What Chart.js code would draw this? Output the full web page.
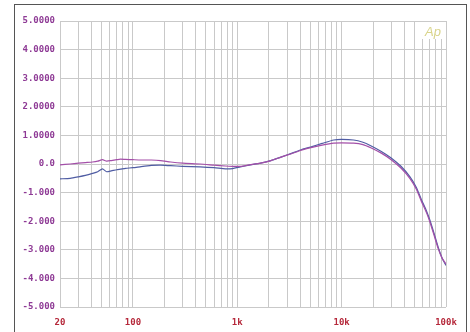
<!DOCTYPE html>
<html>
<head>
<meta charset="utf-8">
<script src="https://cdn.jsdelivr.net/npm/chart.js@4/dist/chart.umd.min.js"></script>
<style>
  html, body { margin: 0; padding: 0; background: #fff; }
  canvas { display: block; }
</style>
</head>
<body>
<canvas id="resp" width="470" height="332"></canvas>
<script>
// frequency points (Hz)
const freqs = [20, 25, 30, 35, 41, 46, 51, 56, 62, 70, 76, 85, 100, 120, 150, 184, 230, 300, 440, 600, 770, 900, 1070, 1300, 1670, 2100, 2620, 3300, 4100, 5200, 6500, 8400, 10000, 13000, 16000, 19000, 24000, 29600, 37000, 45000, 52000, 58000, 65000, 70000, 77000, 84000, 92000, 100000];
// level (dB) - purple trace
const purple = [-0.03, 0.0, 0.03, 0.05, 0.07, 0.1, 0.15, 0.1, 0.12, 0.15, 0.17, 0.16, 0.15, 0.14, 0.14, 0.12, 0.07, 0.03, 0.0, -0.04, -0.07, -0.08, -0.08, -0.03, 0.03, 0.12, 0.24, 0.36, 0.48, 0.58, 0.66, 0.73, 0.74, 0.73, 0.68, 0.57, 0.38, 0.16, -0.14, -0.5, -0.88, -1.3, -1.7, -2.02, -2.5, -2.95, -3.3, -3.5];
// level (dB) - blue trace
const blue = [-0.52, -0.5, -0.45, -0.4, -0.33, -0.27, -0.17, -0.27, -0.24, -0.2, -0.18, -0.15, -0.13, -0.09, -0.05, -0.04, -0.06, -0.08, -0.1, -0.13, -0.17, -0.16, -0.1, -0.04, 0.03, 0.12, 0.24, 0.37, 0.5, 0.61, 0.72, 0.84, 0.86, 0.84, 0.76, 0.64, 0.44, 0.22, -0.08, -0.44, -0.82, -1.24, -1.64, -1.96, -2.44, -2.9, -3.3, -3.55];

const xGridTicks = [20, 30, 40, 50, 60, 70, 80, 90, 100, 200, 300, 400, 500, 600, 700, 800, 900, 1000, 2000, 3000, 4000, 5000, 6000, 7000, 8000, 9000, 10000, 20000, 30000, 40000, 50000, 60000, 70000, 80000, 90000, 100000];
const xLabels = {20: '20', 100: '100', 1000: '1k', 10000: '10k', 100000: '100k'};
const yLabels = {5: '5.0000', 4: '4.0000', 3: '3.0000', 2: '2.0000', 1: '1.0000', 0: '0.0', '-1': '-1.000', '-2': '-2.000', '-3': '-3.000', '-4': '-4.000', '-5': '-5.000'};

const pts = arr => freqs.map((f, i) => ({x: f, y: arr[i]}));

const frame = {
  id: 'frame',
  beforeDraw(chart) {
    const c = chart.ctx;
    c.save();
    c.fillStyle = '#fff';
    c.fillRect(0, 0, chart.width, chart.height);
    c.strokeStyle = '#555';
    c.lineWidth = 1;
    c.strokeRect(14.5, 4.5, 452, 340);
    c.restore();
  },
  afterDatasetsDraw(chart) {
    const c = chart.ctx;
    c.save();
    c.fillStyle = '#fff';
    c.fillRect(422, 22, 23, 17);
    c.fillStyle = '#d9d48a';
    c.font = 'italic 13px "Liberation Sans"';
    c.fillText('Ap', 425, 36);
    c.restore();
  }
};

const noPad = s => { s.paddingLeft = 0; s.paddingRight = 0; s.paddingTop = 0; s.paddingBottom = 0; };

new Chart(document.getElementById('resp'), {
  type: 'line',
  data: {
    datasets: [{
      label: 'purple',
      data: pts(purple),
      borderColor: '#a34fa8',
      borderWidth: 1.2,
      pointRadius: 0,
      tension: 0.2
    }, {
      label: 'blue',
      data: pts(blue),
      borderColor: '#4f5ca3',
      borderWidth: 1.2,
      pointRadius: 0,
      tension: 0.2
    }]
  },
  options: {
    responsive: false,
    animation: false,
    layout: { padding: { left: 0, top: 21, right: 24, bottom: 0 } },
    plugins: { legend: { display: false }, tooltip: { enabled: false } },
    scales: {
      x: {
        type: 'logarithmic',
        min: 20,
        max: 100000,
        afterBuildTicks(s) { s.ticks = xGridTicks.map(v => ({value: v})); },
        afterFit(s) { s.height = 25; noPad(s); },
        grid: { color: '#c9c9c9', drawTicks: false },
        border: { display: false },
        ticks: {
          autoSkip: false,
          maxRotation: 0,
          padding: 10,
          color: '#b5283a',
          font: { family: 'DejaVu Sans Mono', weight: 'bold', size: 9 },
          callback: v => xLabels[v] || ''
        }
      },
      y: {
        min: -5,
        max: 5,
        afterFit(s) { s.width = 60; noPad(s); },
        grid: { color: '#c9c9c9', drawTicks: false },
        border: { display: false },
        ticks: {
          stepSize: 1,
          padding: 5,
          color: '#8e3a95',
          font: { family: 'DejaVu Sans Mono', weight: 'bold', size: 9 },
          callback: v => yLabels[v]
        }
      }
    }
  },
  plugins: [frame]
});
</script>
</body>
</html>
